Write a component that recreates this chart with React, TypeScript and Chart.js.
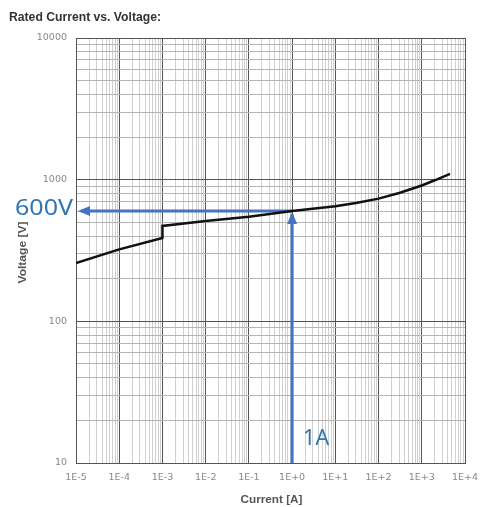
import React, { useEffect, useRef } from "react";
import { Chart, registerables } from "chart.js";

Chart.register(...registerables);

// ---- data ----
const currentA = [1e-5, 1e-4, 1e-3, 1e-3, 1e-2, 1e-1, 1, 10, 30, 100, 300, 1000, 2000, 4500];
const voltageV = [258, 322, 388, 471, 510, 548, 600, 650, 685, 735, 805, 910, 990, 1100];

const xTickLabels = ["1E-5", "1E-4", "1E-3", "1E-2", "1E-1", "1E+0", "1E+1", "1E+2", "1E+3", "1E+4"];
const yTickLabels = ["10", "100", "1000", "10000"];

const markCurrent = 1; // 1A
const markVoltage = 600; // 600V
const markCurrentLabel = "1A";
const markVoltageLabel = "600V";

const titleText = "Rated Current vs. Voltage:";
const xTitle = "Current [A]";
const yTitle = "Voltage [V]";

const X_MIN_EXP = -5;
const X_MAX_EXP = 4;
const Y_MIN_EXP = 1;
const Y_MAX_EXP = 4;

const ARROW = "#4472c4";
const LABEL_BLUE = "#2f76b6";

function logTicks(minExp: number, maxExp: number) {
  const out: { value: number }[] = [];
  for (let e = minExp; e < maxExp; e++) {
    for (let s = 1; s <= 9; s++) out.push({ value: parseFloat((s * Math.pow(10, e)).toPrecision(6)) });
  }
  out.push({ value: Math.pow(10, maxExp) });
  return out;
}

function decadeExp(v: number): number | null {
  const l = Math.log10(v);
  const r = Math.round(l);
  return Math.abs(l - r) < 1e-6 ? r : null;
}

function fitText(ctx: CanvasRenderingContext2D, text: string, x: number, y: number, width: number) {
  const w = ctx.measureText(text).width;
  const k = width / w;
  ctx.save();
  ctx.translate(x, y);
  ctx.scale(k, 1);
  ctx.fillText(text, 0, 0);
  ctx.restore();
}

const overlay = {
  id: "overlay",
  beforeDatasetsDraw(chart: any) {
    const { ctx } = chart;
    const xs = chart.scales.x;
    const ys = chart.scales.y;
    ctx.save();
    ctx.fillStyle = ARROW;
    // left arrowhead
    const hx = xs.getPixelForValue(Math.pow(10, X_MIN_EXP)) + 2;
    const hy = ys.getPixelForValue(markVoltage);
    ctx.beginPath();
    ctx.moveTo(hx, hy);
    ctx.lineTo(hx + 12, hy - 5);
    ctx.lineTo(hx + 12, hy + 5);
    ctx.closePath();
    ctx.fill();
    // up arrowhead
    const vx = xs.getPixelForValue(markCurrent);
    const vy = ys.getPixelForValue(markVoltage) + 1;
    ctx.beginPath();
    ctx.moveTo(vx, vy);
    ctx.lineTo(vx - 5, vy + 12);
    ctx.lineTo(vx + 5, vy + 12);
    ctx.closePath();
    ctx.fill();
    ctx.restore();
  },
  afterDraw(chart: any) {
    const { ctx, chartArea } = chart;
    const xs = chart.scales.x;
    const ys = chart.scales.y;
    ctx.save();
    // title
    ctx.fillStyle = "#333";
    ctx.textBaseline = "alphabetic";
    ctx.textAlign = "left";
    ctx.font = 'bold 13px "Liberation Sans Narrow", "Liberation Sans", sans-serif';
    fitText(ctx, titleText, 9, 21, 152);
    // axis titles
    ctx.fillStyle = "#555";
    ctx.font = 'bold 10px "Liberation Sans", sans-serif';
    ctx.textAlign = "left";
    const xw = 62;
    fitText(ctx, xTitle, (chartArea.left + chartArea.right) / 2 - xw / 2 + 1, 503, xw);
    ctx.save();
    ctx.translate(26, (chartArea.top + chartArea.bottom) / 2 + 2);
    ctx.rotate(-Math.PI / 2);
    fitText(ctx, yTitle, -31, 0, 62);
    ctx.restore();
    // annotation labels
    ctx.fillStyle = LABEL_BLUE;
    ctx.font = '22px "Noto Sans", sans-serif';
    fitText(ctx, markVoltageLabel, 15, ys.getPixelForValue(markVoltage) + 4, 58);
    fitText(ctx, markCurrentLabel, xs.getPixelForValue(markCurrent) + 11, 445, 26);
    ctx.restore();
  },
};

export default function App() {
  const ref = useRef<HTMLCanvasElement | null>(null);
  useEffect(() => {
    if (!ref.current) return;
    const gridColor = (c: any) => {
      const v = c.tick ? c.tick.value : 0;
      return decadeExp(v) !== null ? "#555" : "#b4b4b4";
    };
    const gridColorX = (c: any) => {
      const v = c.tick ? c.tick.value : 0;
      return decadeExp(v) !== null ? "#555" : "#cfcfcf";
    };
    const chart = new Chart(ref.current, {
      type: "scatter",
      data: {
        datasets: [
          {
            label: "curve",
            data: currentA.map((x, i) => ({ x, y: voltageV[i] })),
            showLine: true,
            borderColor: "#111",
            borderWidth: 2.5,
            pointRadius: 0,
            tension: 0,
          },
          {
            label: "h",
            data: [
              { x: markCurrent, y: markVoltage },
              { x: Math.pow(10, X_MIN_EXP) * 1.3, y: markVoltage },
            ],
            showLine: true,
            borderColor: ARROW,
            borderWidth: 3,
            pointRadius: 0,
          },
          {
            label: "v",
            data: [
              { x: markCurrent, y: Math.pow(10, Y_MIN_EXP) },
              { x: markCurrent, y: markVoltage * 0.95 },
            ],
            showLine: true,
            borderColor: ARROW,
            borderWidth: 3,
            pointRadius: 0,
          },
        ],
      },
      options: {
        responsive: false,
        animation: false,
        layout: { padding: { left: 0, right: 18, top: 38, bottom: 0 } },
        plugins: { legend: { display: false }, tooltip: { enabled: false }, title: { display: false } },
        scales: {
          x: {
            type: "logarithmic",
            min: Math.pow(10, X_MIN_EXP),
            max: Math.pow(10, X_MAX_EXP),
            afterBuildTicks: (s: any) => {
              s.ticks = logTicks(X_MIN_EXP, X_MAX_EXP);
            },
            afterFit: (s: any) => {
              s.height = 44;
              s.paddingLeft = 0;
              s.paddingRight = 0;
            },
            grid: { color: gridColorX, lineWidth: 1, drawTicks: false },
            border: { display: true, color: "#555", width: 1 },
            ticks: {
              autoSkip: false,
              maxRotation: 0,
              padding: 9,
              color: "#888",
              font: { family: "DejaVu Sans", size: 9.5 },
              callback: (v: any) => {
                const e = decadeExp(Number(v));
                return e === null ? "" : xTickLabels[e - X_MIN_EXP];
              },
            },
          },
          y: {
            type: "logarithmic",
            min: Math.pow(10, Y_MIN_EXP),
            max: Math.pow(10, Y_MAX_EXP),
            afterBuildTicks: (s: any) => {
              s.ticks = logTicks(Y_MIN_EXP, Y_MAX_EXP);
            },
            afterFit: (s: any) => {
              s.width = 76;
              s.paddingTop = 0;
              s.paddingBottom = 0;
            },
            grid: { color: gridColor, lineWidth: 1, drawTicks: false },
            border: { display: true, color: "#555", width: 1 },
            ticks: {
              autoSkip: false,
              padding: 9,
              color: "#888",
              font: { family: "DejaVu Sans", size: 9.5 },
              callback: (v: any) => {
                const e = decadeExp(Number(v));
                return e === null ? "" : yTickLabels[e - Y_MIN_EXP];
              },
            },
          },
        },
      },
      plugins: [overlay],
    });
    return () => chart.destroy();
  }, []);
  return (
    <div style={{ position: "absolute", left: 0, top: 0, width: 483, height: 507, background: "#fff" }}>
      <canvas ref={ref} width={483} height={507} />
    </div>
  );
}
